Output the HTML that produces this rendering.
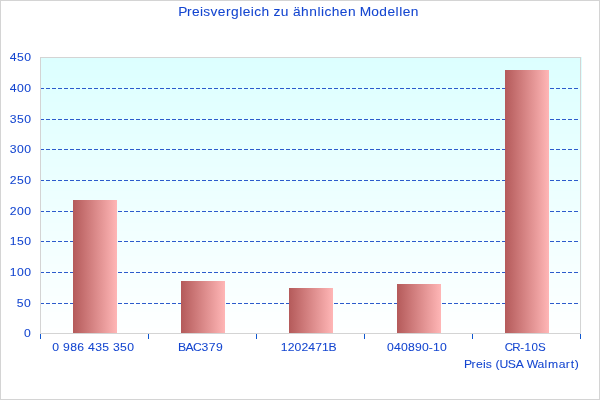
<!DOCTYPE html>
<html><head><meta charset="utf-8"><style>
html,body{margin:0;padding:0;background:#fff;width:600px;height:400px;overflow:hidden}
svg{display:block;will-change:transform}
text{font-family:"Liberation Sans",sans-serif;fill:#1446d0;stroke:#1446d0;stroke-width:0.06px}
</style></head><body>
<svg width="600" height="400" viewBox="0 0 600 400">
<defs>
<linearGradient id="bar" x1="0" y1="0" x2="1" y2="0">
<stop offset="0" stop-color="#b45a5a"/>
<stop offset="1" stop-color="#ffb6b6"/>
</linearGradient>
</defs>
<rect x="0" y="0" width="600" height="400" fill="#fff"/>
<rect x="0.5" y="0.5" width="599" height="399" fill="none" stroke="#d4d4d4" stroke-width="1"/>

<g shape-rendering="crispEdges">
<rect x="41" y="57" width="541" height="5" fill="#dcffff"/>
<rect x="41" y="62" width="541" height="8" fill="#ddffff"/>
<rect x="41" y="70" width="541" height="8" fill="#deffff"/>
<rect x="41" y="78" width="541" height="8" fill="#dfffff"/>
<rect x="41" y="86" width="541" height="8" fill="#e0ffff"/>
<rect x="41" y="94" width="541" height="8" fill="#e1ffff"/>
<rect x="41" y="102" width="541" height="8" fill="#e2ffff"/>
<rect x="41" y="110" width="541" height="8" fill="#e3ffff"/>
<rect x="41" y="118" width="541" height="8" fill="#e4ffff"/>
<rect x="41" y="126" width="541" height="8" fill="#e5ffff"/>
<rect x="41" y="134" width="541" height="8" fill="#e6ffff"/>
<rect x="41" y="142" width="541" height="9" fill="#e7ffff"/>
<rect x="41" y="151" width="541" height="8" fill="#e8ffff"/>
<rect x="41" y="159" width="541" height="8" fill="#e9ffff"/>
<rect x="41" y="167" width="541" height="8" fill="#eaffff"/>
<rect x="41" y="175" width="541" height="8" fill="#ebffff"/>
<rect x="41" y="183" width="541" height="8" fill="#ecffff"/>
<rect x="41" y="191" width="541" height="8" fill="#edffff"/>
<rect x="41" y="199" width="541" height="8" fill="#eeffff"/>
<rect x="41" y="207" width="541" height="8" fill="#efffff"/>
<rect x="41" y="215" width="541" height="8" fill="#f0ffff"/>
<rect x="41" y="223" width="541" height="8" fill="#f1ffff"/>
<rect x="41" y="231" width="541" height="8" fill="#f2ffff"/>
<rect x="41" y="239" width="541" height="9" fill="#f3ffff"/>
<rect x="41" y="248" width="541" height="8" fill="#f4ffff"/>
<rect x="41" y="256" width="541" height="8" fill="#f5ffff"/>
<rect x="41" y="264" width="541" height="8" fill="#f6ffff"/>
<rect x="41" y="272" width="541" height="8" fill="#f7ffff"/>
<rect x="41" y="280" width="541" height="8" fill="#f8ffff"/>
<rect x="41" y="288" width="541" height="8" fill="#f9ffff"/>
<rect x="41" y="296" width="541" height="8" fill="#faffff"/>
<rect x="41" y="304" width="541" height="8" fill="#fbffff"/>
<rect x="41" y="312" width="541" height="8" fill="#fcffff"/>
<rect x="41" y="320" width="541" height="8" fill="#fdffff"/>
<rect x="41" y="328" width="541" height="5" fill="#feffff"/>
</g>
<g stroke="#2c5bcc" stroke-width="1" stroke-dasharray="4 2" shape-rendering="crispEdges">
<line x1="40" y1="88.5" x2="580" y2="88.5"/>
<line x1="40" y1="119.5" x2="580" y2="119.5"/>
<line x1="40" y1="149.5" x2="580" y2="149.5"/>
<line x1="40" y1="180.5" x2="580" y2="180.5"/>
<line x1="40" y1="211.5" x2="580" y2="211.5"/>
<line x1="40" y1="241.5" x2="580" y2="241.5"/>
<line x1="40" y1="272.5" x2="580" y2="272.5"/>
<line x1="40" y1="303.5" x2="580" y2="303.5"/>
</g>
<rect x="40.5" y="57.5" width="540" height="276" fill="none" stroke="#d4d4d4" stroke-width="1" shape-rendering="crispEdges"/>
<g shape-rendering="crispEdges">
<rect x="73" y="200" width="44" height="133" fill="url(#bar)"/>
<rect x="181" y="281" width="44" height="52" fill="url(#bar)"/>
<rect x="289" y="288" width="44" height="45" fill="url(#bar)"/>
<rect x="397" y="284" width="44" height="49" fill="url(#bar)"/>
<rect x="505" y="70" width="44" height="263" fill="url(#bar)"/>
</g>
<g stroke="#1058d0" stroke-width="1" shape-rendering="crispEdges">
<line x1="40.5" y1="334" x2="40.5" y2="339"/>
<line x1="148.5" y1="334" x2="148.5" y2="339"/>
<line x1="256.5" y1="334" x2="256.5" y2="339"/>
<line x1="364.5" y1="334" x2="364.5" y2="339"/>
<line x1="472.5" y1="334" x2="472.5" y2="339"/>
<line x1="580.5" y1="334" x2="580.5" y2="339"/>
</g>
<text transform="scale(1.0600,1)" x="168.23 176.34 181.04 188.66 191.74 198.54 205.54 213.16 218.00 225.75 229.03 236.67 239.92 246.79 254.42 258.12 264.84 272.47 276.35 283.96 291.71 299.45 302.85 306.10 312.98 320.60 328.24 335.87 339.47 350.28 357.90 365.54 373.17 376.57 379.86 387.49" y="16" font-size="13.0">Preisvergleich zu ähnlichen Modellen</text>
<text transform="scale(1.0600,1)" x="49.41 56.05 59.49 66.23 72.96 79.59 83.04 89.77 96.49 103.14 106.58 113.31 120.04" y="351" font-size="11.5">0 986 435 350</text>
<text transform="scale(1.0600,1)" x="167.85 175.08 182.06 190.16 196.96 203.77" y="351" font-size="11.5">BAC379</text>
<text transform="scale(1.0600,1)" x="264.92 271.42 277.91 284.39 290.90 297.40 303.88 310.00" y="351" font-size="11.5">1202471B</text>
<text transform="scale(1.0600,1)" x="365.13 371.73 378.33 384.93 391.53 398.14 404.59 408.49 415.08" y="351" font-size="11.5">040890-10</text>
<text transform="scale(1.0057,1)" x="502.01 509.48 517.32 521.55 528.58 534.96" y="351" font-size="11.5">CR-10S</text>
<text transform="scale(1.0600,1)" x="437.75 444.88 448.97 455.66 458.33 464.10 467.58 471.35 479.07 486.53 493.82 496.85 507.08 513.77 516.95 527.03 533.80 538.41 542.28" y="368" font-size="11.5">Preis (USA Walmart)</text>
<text transform="scale(1.0600,1)" x="9.27 16.03 22.79" y="61" font-size="11.5">450</text>
<text transform="scale(1.0600,1)" x="9.27 16.03 22.79" y="92" font-size="11.5">400</text>
<text transform="scale(1.0600,1)" x="9.27 16.03 22.79" y="123" font-size="11.5">350</text>
<text transform="scale(1.0600,1)" x="9.27 16.03 22.79" y="153" font-size="11.5">300</text>
<text transform="scale(1.0600,1)" x="9.27 16.03 22.79" y="184" font-size="11.5">250</text>
<text transform="scale(1.0600,1)" x="9.27 16.03 22.79" y="215" font-size="11.5">200</text>
<text transform="scale(1.0600,1)" x="9.27 16.03 22.79" y="245" font-size="11.5">150</text>
<text transform="scale(1.0600,1)" x="9.27 16.03 22.79" y="276" font-size="11.5">100</text>
<text transform="scale(1.0600,1)" x="15.85 22.61" y="307" font-size="11.5">50</text>
<text transform="scale(1.0600,1)" x="22.69" y="337" font-size="11.5">0</text>
</svg>
</body></html>
